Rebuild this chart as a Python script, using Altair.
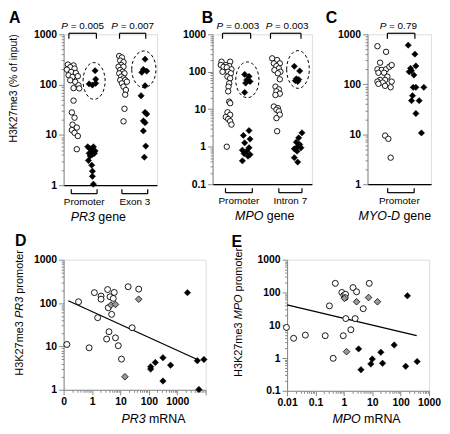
import altair as alt
import pandas as pd

FONT = "Liberation Sans"

# ---------------- data ----------------
# Strip panels: x = horizontal (jitter) position inside the panel, y = H3K27me3 (% of input)
A_prom_ctrl_x = [4.3, 10.0, 6.7, 3.3, 11.0, 7.7, 12.3, 5.0, 9.0, 14.3, 6.7, 11.7, 15.0, 10.0, 15.7, 10.0, 8.3, 11.0, 9.0, 13.3, 8.3, 11.0, 14.3, 13.3]
A_prom_ctrl_y = [250, 240, 222, 198, 208, 178, 170, 153, 142, 147, 122, 113, 97, 85, 84, 48, 28, 22, 16, 14, 12.5, 11, 9.5, 5.2]
A_prom_pt_x = [31.7, 32.3, 25.7, 29.0, 32.3, 24.3, 26.7, 30.0, 28.3, 31.7, 25.7, 31.0, 26.7, 29.0, 25.0, 28.3, 29.0, 29.0, 30.0]
A_prom_pt_y = [189, 128, 103, 98, 106, 5.8, 5.3, 5.8, 5.0, 4.8, 4.3, 4.3, 3.8, 4.1, 3.1, 2.5, 1.9, 1.5, 1.05]
A_exon_ctrl_x = [56.0, 58.7, 57.0, 60.3, 58.0, 55.3, 60.3, 57.0, 59.3, 56.0, 61.3, 58.0, 60.3, 57.0, 62.0, 58.7, 63.7, 60.3, 62.7, 62.0, 61.3, 60.3]
A_exon_ctrl_y = [370, 345, 300, 280, 245, 226, 226, 195, 180, 167, 167, 144, 133, 123, 123, 106, 114, 91, 78, 63, 33, 18.6]
A_exon_pt_x = [82.0, 80.3, 83.7, 78.7, 82.0, 78.0, 82.0, 83.7, 80.3, 82.0, 80.3, 82.7, 81.3]
A_exon_pt_y = [320, 200, 185, 175, 95, 60, 28, 26, 19, 17.5, 12, 6, 3.6]

B_prom_ctrl_x = [9.0, 17.7, 13.3, 8.3, 16.7, 11.0, 14.3, 19.0, 10.0, 15.7, 18.3, 15.0, 17.7, 16.7, 16.0, 15.7, 16.7, 17.7, 15.0, 17.7, 13.3, 15.7, 17.7, 19.0, 14.3]
B_prom_ctrl_y = [185, 185, 151, 151, 142, 135, 131, 116, 100, 100, 91, 74, 67, 49, 40, 30, 16, 14.5, 8.3, 7.1, 6.2, 5.5, 4.8, 3.9, 1.0]
B_prom_pt_x = [32.3, 36.7, 34.3, 37.7, 33.3, 32.3, 36.7, 31.0, 37.7, 32.3, 36.7, 30.0, 34.3, 31.7, 37.7, 35.7, 30.0]
B_prom_pt_y = [85, 75, 60, 55, 50, 28, 2.7, 2.0, 1.6, 1.27, 0.94, 0.81, 0.76, 0.66, 0.62, 0.56, 0.42]
B_int_ctrl_x = [60.0, 65.0, 61.7, 67.7, 64.3, 66.7, 62.3, 68.3, 65.7, 67.7, 63.3, 66.7, 64.3, 67.7, 63.3, 61.7, 65.7, 64.3, 66.7, 67.7, 64.3, 65.0]
B_int_ctrl_y = [228, 205, 167, 167, 142, 123, 111, 100, 91, 63, 40, 34, 30, 26, 24, 11.8, 10.7, 9.7, 8.8, 7.2, 5.8, 2.6]
B_int_pt_x = [82.3, 87.7, 84.3, 86.7, 85.7, 83.3, 90.0, 86.7, 84.3, 87.7, 85.7, 89.0, 82.3, 85.0, 82.3, 85.7]
B_int_pt_y = [140, 105, 65, 62, 55, 58, 2.35, 1.73, 1.32, 1.15, 1.0, 0.94, 0.88, 0.76, 0.51, 0.39]

C_ctrl_x = [10.0, 18.7, 12.7, 10.0, 14.3, 18.7, 22.0, 24.3, 11.0, 16.7, 20.0, 12.7, 17.7, 10.0, 15.3, 24.3, 11.0, 17.7, 23.3, 17.7, 21.0, 23.3]
C_ctrl_y = [577, 445, 270, 199, 193, 199, 224, 242, 170, 170, 142, 122, 122, 113, 108, 113, 102, 93, 87, 9.4, 8.1, 3.4]
C_pt_x = [41.0, 47.7, 48.7, 43.3, 42.0, 44.3, 46.7, 46.0, 48.7, 56.7, 45.3, 44.3, 52.0, 48.7, 54.3]
C_pt_y = [605, 400, 232, 208, 178, 187, 153, 87, 87, 87, 59, 47, 47, 26, 10.6]

# Scatter panels: x = mRNA, y = H3K27me3 at promoter
D_ctrl_x = [0.13, 0.335, 0.79, 1.21, 1.58, 2.08, 2.08, 3.54, 4.3, 6.07, 5.6, 3.74, 4.9, 18.7, 44, 25.9, 3.96, 3.27, 6.7, 8.4, 10.9]
D_ctrl_y = [11.1, 107, 9.3, 174, 46, 145, 123, 205, 140, 176, 128, 78, 55, 238, 210, 27, 21.8, 14.8, 15.8, 10.4, 5.1]
D_gray_x = [4.65, 6.7, 44, 14.4]
D_gray_y = [90, 93, 123, 2.0]
D_pt_x = [116, 116, 169, 314, 583, 314, 2290, 5100, 8700, 5800]
D_pt_y = [3.4, 3.0, 4.27, 5.5, 3.7, 1.59, 174, 4.7, 5.0, 1.02]
D_fit_x = [0.146, 5100]
D_fit_y = [113, 5.0]

E_ctrl_x = [0.0095, 0.017, 0.044, 0.22, 0.95, 0.42, 0.31, 0.5, 0.85, 1.0, 1.15, 1.1, 2.1, 2.8, 7.8, 4.8, 1.17, 2.5, 1.76]
E_ctrl_y = [8.6, 4.0, 5.0, 4.8, 4.8, 0.98, 39, 190, 100, 82, 88, 70, 141, 105, 190, 32, 16, 16, 7.3]
E_gray_x = [1.05, 2.8, 7.4, 15.2, 1.24]
E_gray_y = [66, 52, 70, 52, 1.56]
E_pt_x = [172, 3.3, 4.0, 8.9, 10, 20, 23, 59, 150, 380]
E_pt_y = [79, 1.9, 0.44, 0.66, 0.93, 1.5, 0.69, 2.5, 0.56, 0.78]
E_fit_x = [0.01, 365]
E_fit_y = [42, 4.8]

P_VALUES = {"A": ["= 0.005", "= 0.007"], "B": ["= 0.003", "= 0.003"], "C": ["= 0.79"]}

# ---------------- helpers ----------------
ARIAL = {' ': 278, '=': 584, '.': 278, '-': 333, '(': 333, ')': 333, '%': 889,
         'P': 667, 'R': 722, 'M': 833, 'O': 778, 'Y': 667, 'D': 722, 'N': 722, 'A': 667,
         'H': 722, 'K': 667, 'g': 556, 'e': 556, 'n': 556, 'm': 833, 'p': 556, 'r': 333,
         'o': 556, 't': 278, 'f': 278, 'i': 222, 'u': 556}
for _d in "0123456789":
    ARIAL[_d] = 556


def tw(s, fs):
    return sum(ARIAL.get(c, 556) for c in s) * fs / 1000.0


ONE = pd.DataFrame({"a": [0]})
MAJOR = "abs(log(datum.value)/LN10 - round(log(datum.value)/LN10)) < 0.01"


def log_ticks(e0, e1):
    v = []
    for e in range(e0, e1):
        for m in range(1, 10):
            v.append(float(f"{m}e{e}"))
    v.append(float(f"1e{e1}"))
    return v


def log_axis(e0, e1, expr=None):
    return alt.Axis(values=log_ticks(e0, e1),
                    labelExpr=expr or f"({MAJOR}) ? format(datum.value, '~g') : ''",
                    tickSize={"condition": {"test": MAJOR, "value": 5}, "value": 2.5},
                    labelOverlap=False, labelFlush=False, labelFontWeight="bold", labelFontSize=10.5,
                    labelPadding=2, title=None, grid=False, labelFont=FONT)


def pts_df(xs, ys):
    return pd.DataFrame({"x": xs, "y": ys})


def circles(df, X, Y, size=30):
    return alt.Chart(df).mark_point(shape="circle", filled=True, fill="white", stroke="black",
                                    strokeWidth=0.9, size=size, opacity=1).encode(x=X, y=Y)


def diamonds(df, X, Y, fill="black", size=40, sw=0.5):
    return alt.Chart(df).mark_point(shape="diamond", filled=True, fill=fill, stroke="black",
                                    strokeWidth=sw, size=size, opacity=1).encode(x=X, y=Y)


def htext_pair(X, xval, it, rest, fs, ypx):
    df = pd.DataFrame({"x": [xval]})
    wi, ws, wr = tw(it, fs), tw(" ", fs), tw(rest, fs)
    a = -(wi + ws + wr) / 2 + wi
    t1 = alt.Chart(df).mark_text(text=it, font=FONT, fontSize=fs, fontStyle="italic", align="right",
                                 baseline="alphabetic", dx=a, color="black").encode(x=X("x"), y=alt.value(ypx))
    t2 = alt.Chart(df).mark_text(text=rest, font=FONT, fontSize=fs, align="left",
                                 baseline="alphabetic", dx=a + ws, color="black").encode(x=X("x"), y=alt.value(ypx))
    return [t1, t2]


def vtitle(pieces, fs, xc, ycenter):
    widths = [tw(t, fs) for t, _ in pieces]
    sp = tw(" ", fs)
    total = sum(widths) + sp * (len(pieces) - 1)
    y = ycenter + total / 2
    out = []
    for (t, it), w in zip(pieces, widths):
        out.append(alt.Chart(ONE).mark_text(text=t, angle=270, align="left", baseline="middle", font=FONT,
                                            fontSize=fs, fontStyle="italic" if it else "normal",
                                            color="black").encode(x=alt.value(xc), y=alt.value(y)))
        y -= w + sp
    return out


def letter(ch, dx, dy):
    return alt.Chart(ONE).mark_text(text=ch, font=FONT, fontSize=16, fontWeight="bold", align="left",
                                    baseline="top", color="black").encode(x=alt.value(dx), y=alt.value(dy))


def ellipse_path(r):
    return f"M{-r},0 A{r},1 0 1,1 {r},0 A{r},1 0 1,1 {-r},0 Z"


def strip_panel(W, H, ydom, yaxis, groups, ellipses, top_br, bot_br, labels, pvals, gene, gene_x,
                let, let_dx, ytitle=None):
    sx = alt.Scale(domain=[0, W], nice=False, zero=False)
    xaxis = alt.Axis(labels=False, ticks=False, title=None, grid=False, domainWidth=1.3, domainColor="black")

    def X(f):
        return alt.X(f, type="quantitative", scale=sx, axis=xaxis)

    Y = alt.Y("y:Q", scale=alt.Scale(type="log", domain=ydom, nice=False), axis=yaxis)
    layers = []
    for (xs, ys, kind) in groups:
        df = pts_df(xs, ys)
        layers.append(circles(df, X("x"), Y) if kind == "ctrl" else diamonds(df, X("x"), Y))
    for (cx, cy, ratio, h) in ellipses:
        layers.append(alt.Chart(pd.DataFrame({"x": [cx], "y": [cy]})).mark_point(
            shape=ellipse_path(ratio), filled=False, stroke="black", strokeWidth=1,
            strokeDash=[3, 2.5], size=h * h, opacity=1).encode(x=X("x"), y=Y))
    # brackets
    for brs, yh, yt in ((top_br, -1, 4.5), (bot_br, H + 8.5, H + 4)):
        bdf = pd.DataFrame({"x1": [b[0] for b in brs], "x2": [b[1] for b in brs]})
        layers.append(alt.Chart(bdf).mark_rule(color="black", strokeWidth=1.2).encode(
            x=X("x1"), x2=alt.X2("x2"), y=alt.value(yh)))
        tdf = pd.DataFrame({"x": [v for b in brs for v in b]})
        layers.append(alt.Chart(tdf).mark_rule(color="black", strokeWidth=1.2).encode(
            x=X("x"), y=alt.value(yh), y2=alt.value(yt)))
    ldf = pd.DataFrame({"x": [l[0] for l in labels], "t": [l[1] for l in labels]})
    layers.append(alt.Chart(ldf).mark_text(font=FONT, fontSize=10, align="center", baseline="alphabetic",
                                           color="black").encode(x=X("x"), y=alt.value(H + 19.5), text="t:N"))
    for (cx, rest) in pvals:
        layers += htext_pair(X, cx, "P", rest, 10, -5.5)
    layers += htext_pair(X, gene_x, gene, "gene", 12.5, H + 36)
    layers.append(letter(let, let_dx, -24))
    if ytitle:
        layers.append(alt.Chart(ONE).mark_text(text=ytitle, angle=270, align="right", baseline="middle",
                                               font=FONT, fontSize=10.5, color="black").encode(
            x=alt.value(-49.5), y=alt.value(0)))
    return alt.layer(*layers).properties(width=W, height=H)


def scatter_panel(W, H, xdom, ydom, xaxis, yaxis, ctrl, gray, pt, fit, gene, xt_center, xt_base,
                  let, let_dx, let_dy, yt_x, yt_c):
    X = alt.X("x:Q", scale=alt.Scale(type="log", domain=xdom, nice=False), axis=xaxis)
    Y = alt.Y("y:Q", scale=alt.Scale(type="log", domain=ydom, nice=False), axis=yaxis)
    layers = [alt.Chart(pts_df(*fit)).mark_line(color="black", strokeWidth=1.3).encode(x=X, y=Y),
              circles(pts_df(*ctrl), X, Y, size=36),
              diamonds(pts_df(*gray), X, Y, fill="#9a9a9a", size=44, sw=0.8),
              diamonds(pts_df(*pt), X, Y, size=42)]
    fs = 12.5
    wi, ws, wr = tw(gene, fs), tw(" ", fs), tw("mRNA", fs)
    a = xt_center - (wi + ws + wr) / 2
    layers.append(alt.Chart(ONE).mark_text(text=gene, font=FONT, fontSize=fs, fontStyle="italic", align="left",
                                           baseline="alphabetic", color="black").encode(
        x=alt.value(a), y=alt.value(xt_base)))
    layers.append(alt.Chart(ONE).mark_text(text="mRNA", font=FONT, fontSize=fs, align="left",
                                           baseline="alphabetic", color="black").encode(
        x=alt.value(a + wi + ws), y=alt.value(xt_base)))
    layers += vtitle([("H3K27me3", False), (gene, True), ("promoter", False)], 11, yt_x, yt_c)
    layers.append(letter(let, let_dx, let_dy))
    return alt.layer(*layers).properties(width=W, height=H)


# ---------------- panels ----------------
A = strip_panel(94, 152, [1, 1000], log_axis(0, 3),
                [(A_prom_ctrl_x, A_prom_ctrl_y, "ctrl"), (A_prom_pt_x, A_prom_pt_y, "pt"),
                 (A_exon_ctrl_x, A_exon_ctrl_y, "ctrl"), (A_exon_pt_x, A_exon_pt_y, "pt")],
                [(30.7, 118, 0.6, 37), (80.8, 201, 0.66, 37)],
                [(5.3, 33), (56.3, 82.7)], [(7.7, 33.7), (58.7, 84.7)],
                [(20.7, "Promoter"), (71.7, "Exon 3")],
                [(19.2, P_VALUES["A"][0]), (69.5, P_VALUES["A"][1])],
                "PR3", 35, "A", -55, ytitle="H3K27me3 (% of input)")

B = strip_panel(100, 151, [0.1, 1000], log_axis(-1, 3),
                [(B_prom_ctrl_x, B_prom_ctrl_y, "ctrl"), (B_prom_pt_x, B_prom_pt_y, "pt"),
                 (B_int_ctrl_x, B_int_ctrl_y, "ctrl"), (B_int_pt_x, B_int_pt_y, "pt")],
                [(35, 61, 0.65, 36), (86, 115, 0.6, 38)],
                [(10, 38.3), (58.3, 89)], [(13, 40), (66.7, 90)],
                [(26.5, "Promoter"), (78.3, "Intron 7")],
                [(25.5, P_VALUES["B"][0]), (75, P_VALUES["B"][1])],
                "MPO", 52.5, "B", -11)

C = strip_panel(64, 151, [1, 1000], log_axis(0, 3),
                [(C_ctrl_x, C_ctrl_y, "ctrl"), (C_pt_x, C_pt_y, "pt")],
                [], [(20, 47.7)], [(20.3, 47)],
                [(32, "Promoter")], [(31, P_VALUES["C"][0])],
                "MYO-D", 27.5, "C", -42)

D_xexpr = f"({MAJOR}) ? (datum.value < 0.5 ? '0' : (datum.value > 5000 ? '' : format(datum.value, '~g'))) : ''"
D = scatter_panel(143, 131, [0.1, 10000], [1, 1000], log_axis(-1, 4, D_xexpr), log_axis(0, 3),
                  (D_ctrl_x, D_ctrl_y), (D_gray_x, D_gray_y), (D_pt_x, D_pt_y), (D_fit_x, D_fit_y),
                  "PR3", 90.5, 131 + 33, "D", -49, -27, -43.5, 53.5)
E = scatter_panel(143, 132, [0.01, 1000], [0.1, 1000], log_axis(-2, 3), log_axis(-1, 3),
                  (E_ctrl_x, E_ctrl_y), (E_gray_x, E_gray_y), (E_pt_x, E_pt_y), (E_fit_x, E_fit_y),
                  "MPO", 80, 132 + 32, "E", -56, -26, -48, 53)

top = alt.hconcat(A, B, C, spacing=56, bounds="flush")
bottom = alt.hconcat(D, E, spacing=82, bounds="flush")
chart = alt.vconcat(top, bottom, spacing=8, padding=0).configure_view(stroke=None).configure_axis(
    domainColor="black", tickColor="black", labelColor="black", labelFont=FONT,
    tickWidth=1, domainWidth=1.3, grid=False).configure(font=FONT)

chart.save("out.html", embed_options={"renderer": "svg", "actions": False})
